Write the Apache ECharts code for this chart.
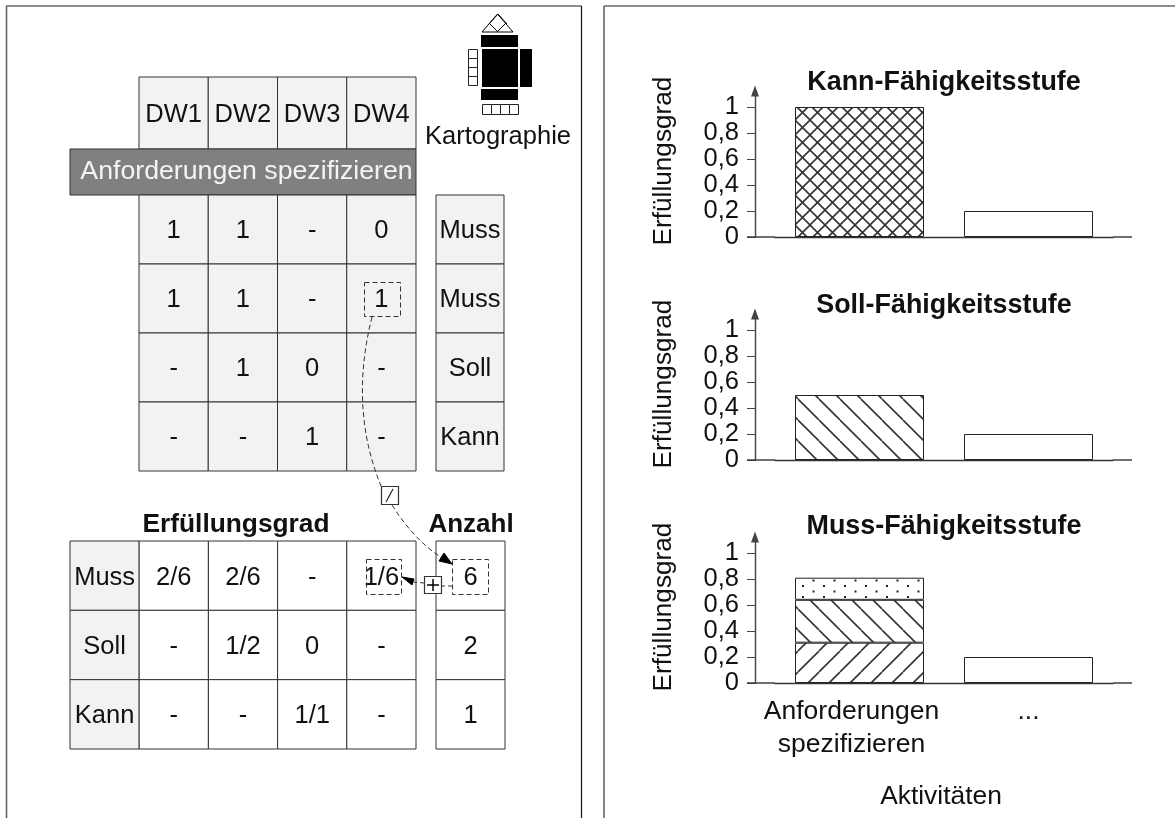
<!DOCTYPE html>
<html><head><meta charset="utf-8">
<style>html,body{margin:0;padding:0;background:#fff}#c{width:1175px;height:818px}</style>
<script src="https://cdn.jsdelivr.net/npm/echarts@6/dist/echarts.min.js"></script>
</head><body><div id="c"></div>
<script>
// ---- data ----
var dwLabels = ['DW1','DW2','DW3','DW4'];
var activityName = ['Anforderungen spezifizieren'];
var reqRows = [['1','1','-','0'],['1','1','-','1'],['-','1','0','-'],['-','-','1','-']];
var reqLevels = ['Muss','Muss','Soll','Kann'];
var gradeRows = [['Muss','2/6','2/6','-','1/6'],['Soll','-','1/2','0','-'],['Kann','-','-','1/1','-']];
var countValues = ['6','2','1'];
var activities = ['Anforderungen\nspezifizieren','...'];
var kannValues = [1,0.2];
var sollValues = [0.5,0.2];
var mussLower = [0.31,0.2];
var mussMiddle = [0.33,null];
var mussUpper = [0.17,null];
var yTicks = [0,0.2,0.4,0.6,0.8,1];
var chartTitles = ['Kann-Fähigkeitsstufe','Soll-Fähigkeitsstufe','Muss-Fähigkeitsstufe'];

var FONT = '"Liberation Sans", Arial, sans-serif';

// ---- hatch patterns ----
function tile(w,h,draw){
  var c=document.createElement('canvas');c.width=w;c.height=h;
  var g=c.getContext('2d');g.fillStyle='#fff';g.fillRect(0,0,w,h);
  g.strokeStyle='#333';g.fillStyle='#222';g.lineWidth=1.6;draw(g,w,h);
  return {image:c,repeat:'repeat'};
}
function back(g,n){for(var i=-1;i<=1;i++){g.beginPath();g.moveTo(i*n,0);g.lineTo(i*n+n,n);g.stroke();}}
function fwd(g,n){for(var i=-1;i<=1;i++){g.beginPath();g.moveTo(i*n,n);g.lineTo(i*n+n,0);g.stroke();}}
var patCross=tile(15,15,function(g){back(g,15);fwd(g,15);});
var patBack=tile(21,21,function(g){back(g,21);});
var patFwd=tile(21,21,function(g){fwd(g,21);});
var patDots=tile(21,11,function(g){[[4,2],[14.5,7.5]].forEach(function(p){g.fillRect(p[0],p[1],2,2);});});

// ---- option assembly ----
var grids=[],xAxes=[],yAxes=[],series=[];

function addTable(box,colLabels,rowLabels,rows,fillFn,opts){
  opts=opts||{};
  var idx=grids.length;
  grids.push({left:box[0],top:box[1],width:box[2],height:box[3],containLabel:false});
  xAxes.push({gridIndex:idx,type:'category',data:colLabels,show:false});
  yAxes.push({gridIndex:idx,type:'category',data:rowLabels,inverse:true,show:false});
  var data=[];
  rows.forEach(function(r,y){r.forEach(function(v,x){
    data.push({value:[x,y,v],fill:fillFn(x,y)});
  });});
  series.push({type:'custom',coordinateSystem:'cartesian2d',xAxisIndex:idx,yAxisIndex:idx,silent:true,z:2,
    encode:{x:0,y:1},
    data:data,
    renderItem:function(params,api){
      var c=api.coord([api.value(0),api.value(1)]),s=api.size([1,1]);
      var d=data[params.dataIndex];
      return {type:'group',children:[
        {type:'rect',shape:{x:c[0]-s[0]/2,y:c[1]-s[1]/2,width:s[0],height:s[1]},
         style:{fill:d.fill,stroke:'#333',lineWidth:1}},
        {type:'text',x:c[0]+(opts.dx||0),y:c[1]+(opts.dy||0),
         style:{text:String(d.value[2]),fill:opts.textColor||'#111',fontSize:opts.fontSize||25.5,
                fontFamily:FONT,align:'center',verticalAlign:'middle'}}
      ]};
    }});
}
var GRAY='#f2f2f2';
addTable([139,77,277,72],dwLabels,['h'],[dwLabels],function(){return GRAY;},{dy:1.5});
addTable([70,149,346,46],activityName,['a'],[activityName],function(){return '#808080';},{textColor:'#f4f4f4',fontSize:26.7,dx:3.5});
addTable([139,195,277,276],dwLabels,['1','2','3','4'],reqRows,function(){return GRAY;},{dy:1});
addTable([436,195,68,276],['L'],['1','2','3','4'],reqLevels.map(function(v){return [v];}),function(){return GRAY;},{dy:1});
addTable([70,541,346,208],['L','DW1','DW2','DW3','DW4'],['Muss','Soll','Kann'],gradeRows,function(x){return x===0?GRAY:'#fff';},{dy:2});
addTable([436,541,69,208],['n'],['Muss','Soll','Kann'],countValues.map(function(v){return [v];}),function(){return '#fff';},{dy:2});

function addChart(baseline,showCats,seriesList){
  var idx=grids.length;
  var plotH=146;
  grids.push({left:775,width:338,top:baseline-plotH,height:plotH});
  xAxes.push({gridIndex:idx,type:'category',data:activities,
    axisTick:{show:false},axisLine:{lineStyle:{color:'#333',width:1.4}},
    axisLabel:{show:showCats,color:'#111',fontSize:26.5,fontFamily:FONT,lineHeight:33,margin:12,interval:0,
      formatter:function(v,i){
        return i===0?v.split('\n').map(function(t){return '{shift|'+t+'}';}).join('\n'):v;
      },
      rich:{shift:{padding:[0,16,0,0],color:'#111',fontSize:26.5,fontFamily:FONT,lineHeight:33}}},
    name:showCats?'Aktivitäten':'',nameLocation:'middle',nameGap:101,
    nameTextStyle:{color:'#111',fontSize:26.4,fontFamily:FONT,padding:[0,6,0,0]}});
  yAxes.push({gridIndex:idx,type:'value',min:0,max:plotH/130,offset:20,
    axisLine:{show:true,symbol:['none','triangle'],symbolSize:[8,11],lineStyle:{color:'#444',width:1.4}},
    axisTick:{show:true,length:8,customValues:yTicks,lineStyle:{color:'#444'}},
    splitLine:{show:false},
    axisLabel:{customValues:yTicks,color:'#111',fontSize:25.5,fontFamily:FONT,margin:16,
      formatter:function(v){return String(v).replace('.',',');}},
    name:'Erfüllungsgrad',nameLocation:'middle',nameRotate:90,nameGap:78,
    nameTextStyle:{color:'#111',fontSize:26.2,fontFamily:FONT,padding:[0,0,0,6]}});
  seriesList.forEach(function(s){
    series.push({type:'bar',stack:'s'+idx,xAxisIndex:idx,yAxisIndex:idx,silent:true,barWidth:129,z:3,
      data:s.values.map(function(v,i){return {value:v,itemStyle:{color:i===0?s.pattern:'#fff',borderColor:'#222',borderWidth:1}};})});
  });
}
addChart(237,false,[{values:kannValues,pattern:patCross}]);
addChart(460,false,[{values:sollValues,pattern:patBack}]);
addChart(683,true,[{values:mussLower,pattern:patFwd},{values:mussMiddle,pattern:patBack},{values:mussUpper,pattern:patDots}]);

// ---- annotations ----
var ln={stroke:'#333',lineWidth:1.3};
var dash={stroke:'#333',lineWidth:1,lineDash:[5,3],fill:null};
function line(x1,y1,x2,y2,st){return {type:'line',shape:{x1:x1,y1:y1,x2:x2,y2:y2},style:st||ln,z:7};}
function box(x,y,w,h,st){return {type:'rect',shape:{x:x,y:y,width:w,height:h},style:st,z:6};}
function poly(pts,fill){return {type:'polygon',shape:{points:pts},style:{fill:fill||'#000',stroke:'#000',lineWidth:1},z:6};}
function txt(s,x,y,size,weight,align){return {type:'text',x:x,y:y,z:7,style:{text:s,fontFamily:FONT,fontSize:size,fontWeight:weight||'normal',fill:'#111',align:align||'center',verticalAlign:'middle'}};}

var gfx=[
  line(6.5,6,6.5,818,{stroke:'#666',lineWidth:1.6}),
  line(6,6,581.5,6,{stroke:'#666',lineWidth:1.6}),
  line(581.5,6,581.5,818,{stroke:'#111',lineWidth:1.2}),
  line(604,6,604,818,{stroke:'#666',lineWidth:1.6}),
  line(604,6,1175,6,{stroke:'#666',lineWidth:1.6}),
  // x axis extensions
  line(747,237,775,237,{stroke:'#333',lineWidth:1.4}),line(1113,237,1132,237,{stroke:'#333',lineWidth:1.4}),
  line(747,460,775,460,{stroke:'#333',lineWidth:1.4}),line(1113,460,1132,460,{stroke:'#333',lineWidth:1.4}),
  line(747,683,775,683,{stroke:'#333',lineWidth:1.4}),line(1113,683,1132,683,{stroke:'#333',lineWidth:1.4}),
  // table headers
  txt('Erfüllungsgrad',236,525,26.3,'bold'),
  txt('Anzahl',471,525,26,'bold'),
  txt('Kartographie',498,137,25.5),
  // chart titles
  txt(chartTitles[0],944,83,26.9,'bold'),
  txt(chartTitles[1],944,306,26.9,'bold'),
  txt(chartTitles[2],944,527,26.9,'bold'),
  // dashed cell highlights
  box(364.5,282.5,36,34,{fill:null,stroke:'#333',lineWidth:1,lineDash:[5,3]}),
  box(366.5,559.5,35,35,{fill:null,stroke:'#333',lineWidth:1,lineDash:[5,3]}),
  box(452.5,559.5,36,35,{fill:null,stroke:'#333',lineWidth:1,lineDash:[5,3]}),
  // curved arrow
  {type:'bezierCurve',shape:{x1:372,y1:317,cpx1:358,cpy1:372,cpx2:358,cpy2:430,x2:381,y2:486},style:dash,z:5},
  {type:'bezierCurve',shape:{x1:392,y1:505,cpx1:405,cpy1:526,cpx2:423,cpy2:546,x2:442,y2:558},style:dash,z:5},
  poly([[452,564],[439,561],[444,553]]),
  box(381.5,486.5,17,18,{fill:'#fff',stroke:'#333',lineWidth:1.2}),
  line(386,502,393,489,{stroke:'#222',lineWidth:1.2}),
  // plus node
  line(452,586,442,586,{stroke:'#333',lineWidth:1,lineDash:[4,3]}),
  line(424,583,413,582,{stroke:'#333',lineWidth:1,lineDash:[4,3]}),
  poly([[402,577],[414,579],[412,585]]),
  box(424.5,576.5,17,17,{fill:'#fff',stroke:'#333',lineWidth:1.2}),
  line(427,585,439,585,{stroke:'#000',lineWidth:1.5}),
  line(433,579,433,591,{stroke:'#000',lineWidth:1.5}),
  // map icon
  poly([[497.5,14],[513,32],[482,32]],'#fff'),
  line(489,23,498,32,{stroke:'#000',lineWidth:1}),
  line(506,23,497,32,{stroke:'#000',lineWidth:1}),
  line(498,14,507,24,{stroke:'#000',lineWidth:1}),line(498,14,489,24,{stroke:'#000',lineWidth:1}),
  box(481,35,37,12,{fill:'#000'}),box(482,49,36,38,{fill:'#000'}),box(481,89,37,11,{fill:'#000'}),box(520,49,12,38,{fill:'#000'})
];
[49,58,67,76].forEach(function(y){gfx.push(box(468.5,y+.5,9,9,{fill:'#fff',stroke:'#222',lineWidth:1}));});
[482,491,500,509].forEach(function(x){gfx.push(box(x+.5,104.5,9,10,{fill:'#fff',stroke:'#222',lineWidth:1}));});

var chart=echarts.init(document.getElementById('c'),null,{renderer:'canvas'});
chart.setOption({animation:false,backgroundColor:'#fff',grid:grids,xAxis:xAxes,yAxis:yAxes,series:series,graphic:gfx,tooltip:{show:false}});
</script></body></html>
